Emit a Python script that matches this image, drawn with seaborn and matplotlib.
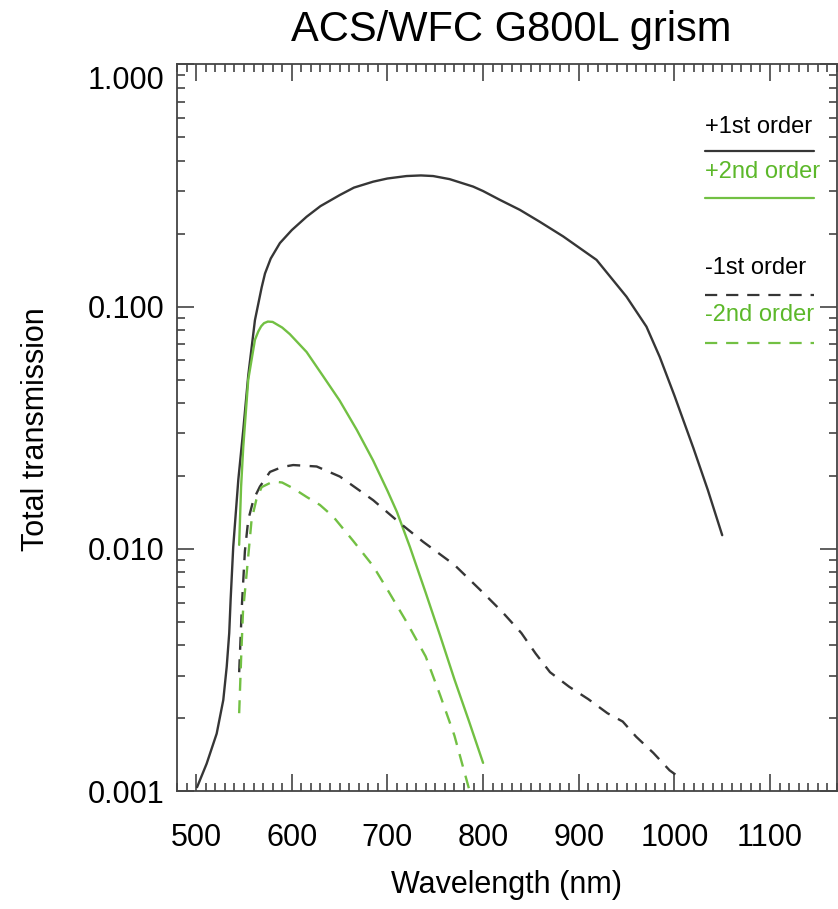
# ACS/WFC G800L grism transmission curves
import matplotlib
matplotlib.use("Agg")
import matplotlib.pyplot as plt
import matplotlib.ticker as mticker
import matplotlib.transforms as mtransforms
from matplotlib.lines import Line2D
import seaborn as sns
import numpy as np

sns.set_theme(style="white")
plt.rcParams['font.family'] = ['Liberation Sans', 'DejaVu Sans']
plt.rcParams['text.color'] = 'black'
plt.rcParams['axes.labelcolor'] = 'black'
plt.rcParams['xtick.color'] = 'black'
plt.rcParams['ytick.color'] = 'black'

# values
wave_p1 = [501, 511, 521.5, 528.4, 532, 534.6, 536.1, 538.8, 544.1, 549.3, 554.5, 561.5,
           568.5, 572, 578, 587.6, 600, 615.5, 630, 650.3, 665, 685.1, 700, 720, 735, 747.8,
           765, 789.6, 800, 817.5, 838.4, 859.3, 883.7, 918.6, 949.9, 970.8, 984.7, 1000,
           1020, 1035, 1050]
trans_p1 = [0.00104, 0.0013, 0.00173, 0.00238, 0.00327, 0.00449, 0.0062, 0.0102, 0.0193, 0.031,
            0.052, 0.088, 0.120, 0.137, 0.158, 0.183, 0.207, 0.235, 0.260, 0.289, 0.310, 0.328,
            0.338, 0.346, 0.348, 0.346, 0.336, 0.313, 0.300, 0.276, 0.251, 0.224, 0.195, 0.156,
            0.110, 0.0827, 0.062, 0.043, 0.026, 0.0175, 0.0114]

wave_p2 = [545, 547, 549.3, 554.5, 561.5, 565, 568, 571, 575, 580, 590, 598, 615.5, 633, 650,
           668, 685, 700, 710, 723.5, 740, 755, 770, 785, 800]
trans_p2 = [0.0104, 0.018, 0.0264, 0.050, 0.073, 0.079, 0.083, 0.0855, 0.0868, 0.0865, 0.082,
            0.077, 0.065, 0.0515, 0.041, 0.031, 0.0232, 0.0174, 0.0142, 0.0102, 0.0066, 0.0044,
            0.0029, 0.00196, 0.00131]

wave_m1 = [545, 548, 551, 554.5, 560, 566.7, 577.2, 590, 601.5, 626, 650.3, 685.1, 713, 737.4,
           770, 800, 820, 840, 855, 870, 890, 910, 930, 946, 960, 978, 995, 1004]
trans_m1 = [0.0031, 0.006, 0.0098, 0.0132, 0.016, 0.0181, 0.0208, 0.0218, 0.0222, 0.0219,
            0.0199, 0.0159, 0.0128, 0.0107, 0.0086, 0.0066, 0.0055, 0.0045, 0.0037, 0.0031,
            0.0027, 0.0024, 0.0021, 0.00194, 0.00168, 0.00144, 0.00122, 0.00115]

wave_m2 = [545, 547, 549, 552.8, 558, 563, 568.5, 580.6, 590, 601.5, 615.5, 629.4, 643.3,
           664.2, 685.1, 700, 720, 740, 755, 770, 786]
trans_m2 = [0.0021, 0.0035, 0.0055, 0.0079, 0.0132, 0.016, 0.018, 0.019, 0.0188, 0.0178,
            0.0164, 0.0152, 0.0136, 0.0108, 0.0085, 0.0068, 0.0050, 0.0036, 0.0025, 0.0017,
            0.001]

labels = ["+1st order", "+2nd order", "-1st order", "-2nd order"]

dark = "#363636"
green = "#72c043"
dash = (5.5, 4)

fig = plt.figure(figsize=(8.38, 9.09), dpi=100)
ax = fig.add_axes([0.2112, 0.1295, 0.7876, 0.7997])

sns.lineplot(x=wave_p1, y=trans_p1, ax=ax, color=dark, lw=1.7, estimator=None)
sns.lineplot(x=wave_p2, y=trans_p2, ax=ax, color=green, lw=1.7, estimator=None)
sns.lineplot(x=wave_m1, y=trans_m1, ax=ax, color=dark, lw=1.7, estimator=None)
ax.lines[-1].set_dashes(dash)
sns.lineplot(x=wave_m2, y=trans_m2, ax=ax, color=green, lw=1.7, estimator=None)
ax.lines[-1].set_dashes(dash)

ax.set_yscale('log')
ax.set_xlim(480, 1170)
ax.set_ylim(0.001, 1.0)

ax.xaxis.set_major_locator(mticker.MultipleLocator(100))
ax.xaxis.set_minor_locator(mticker.MultipleLocator(10))
ax.yaxis.set_major_locator(mticker.FixedLocator([0.001, 0.01, 0.1, 1.0]))
ax.yaxis.set_minor_locator(mticker.LogLocator(base=10, subs=np.arange(2, 10)))
ax.yaxis.set_major_formatter(mticker.FuncFormatter(lambda v, p: "%.3f" % v))
ax.yaxis.set_minor_formatter(mticker.NullFormatter())

ax.tick_params(which='both', direction='in', top=True, right=True, bottom=True, left=True,
               color='#444444', width=1.2)
ax.tick_params(which='major', length=12, labelsize=22)
ax.tick_params(which='minor', length=6)
ax.tick_params(axis='x', which='major', pad=23)
ax.tick_params(axis='y', which='major', pad=9)
for s in ax.spines.values():
    s.set_color('#444444')
    s.set_linewidth(1.3)

ax.set_xlabel("Wavelength (nm)", fontsize=22)
ax.set_ylabel("Total transmission", fontsize=22)
ax.xaxis.set_label_coords(0.5, -0.129)
ax.xaxis.label.set_verticalalignment('center')
ax.yaxis.set_label_coords(-0.214, 0.498)
ax.yaxis.label.set_verticalalignment('center')

fig.text(0.61, 0.967, "ACS/WFC G800L grism", fontsize=30, ha='center', va='center')

# hand-drawn key at the upper right, text above each line sample
key_style = [(dark, '-'), (green, '-'), (dark, '--'), (green, '--')]
key_text_y = [0.914, 0.852, 0.720, 0.655]
key_line_y = [0.881, 0.816, 0.683, 0.617]
for lab, (c, ls), ty, ly in zip(labels, key_style, key_text_y, key_line_y):
    tc = 'black' if c == dark else '#5cb82a'
    ax.text(0.80, ty, lab, color=tc, fontsize=17, transform=ax.transAxes,
            ha='left', va='center')
    ln = Line2D([0.80, 0.965], [ly, ly], color=c, lw=1.6, transform=ax.transAxes)
    if ls == '--':
        ln.set_dashes(dash)
    ax.add_line(ln)

# the top y label sits a little below its tick in the reference
fig.canvas.draw()
top_tick = ax.yaxis.get_major_ticks()[-1]
shift = mtransforms.ScaledTranslation(0, -13 / 100, fig.dpi_scale_trans)
top_tick.label1.set_transform(top_tick.label1.get_transform() + shift)

fig.savefig("out.png", dpi=100)
